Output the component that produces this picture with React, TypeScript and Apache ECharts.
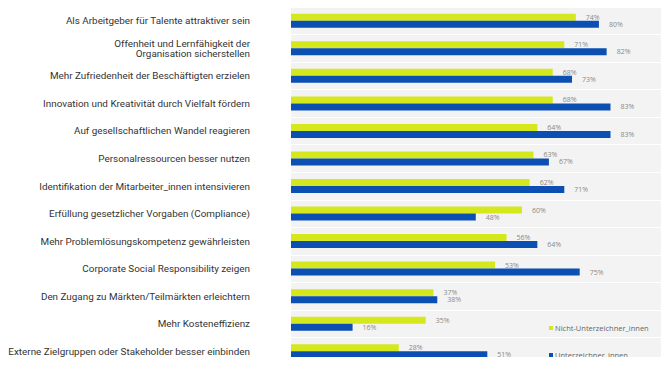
import React, { useEffect, useRef } from "react";
import * as echarts from "echarts";

// Motive, top to bottom
const categories: string[] = [
  "Als Arbeitgeber für Talente attraktiver sein",
  "Offenheit und Lernfähigkeit der\nOrganisation sicherstellen",
  "Mehr Zufriedenheit der Beschäftigten erzielen",
  "Innovation und Kreativität durch Vielfalt fördern",
  "Auf gesellschaftlichen Wandel reagieren",
  "Personalressourcen besser nutzen",
  "Identifikation der Mitarbeiter_innen intensivieren",
  "Erfüllung gesetzlicher Vorgaben (Compliance)",
  "Mehr Problemlösungskompetenz gewährleisten",
  "Corporate Social Responsibility zeigen",
  "Den Zugang zu Märkten/Teilmärkten erleichtern",
  "Mehr Kosteneffizienz",
  "Externe Zielgruppen oder Stakeholder besser einbinden",
];

const seriesNames: string[] = ["Nicht-Unterzeichner_innen", "Unterzeichner_innen"];

const nichtUnterzeichner: number[] = [74, 71, 68, 68, 64, 63, 62, 60, 56, 53, 37, 35, 28];
const unterzeichner: number[] = [80, 82, 73, 83, 83, 67, 71, 48, 64, 75, 38, 16, 51];

const GREEN = "#d5e81e";
const BLUE = "#0b4fb2";

export default function App() {
  const ref = useRef<HTMLDivElement>(null);

  useEffect(() => {
    if (!ref.current) return;
    const chart = echarts.init(ref.current, undefined, { renderer: "svg" });

    const valueLabel = {
      show: true,
      position: "right" as const,
      distance: 10,
      formatter: "{c}%",
      color: "#8a8a8a",
      fontSize: 7,
      fontFamily: "Open Sans",
    };

    const legendText = {
      color: "#666666",
      fontSize: 7.5,
      fontFamily: "Open Sans",
      padding: [0, 0, 0, -3],
    };

    const legendBase = {
      orient: "vertical",
      left: 549,
      itemWidth: 4,
      itemHeight: 4,
      icon: "rect",
      padding: 0,
      textStyle: legendText,
    };

    chart.setOption({
      animation: false,
      backgroundColor: "#ffffff",
      grid: {
        left: 291,
        top: 7,
        right: 0,
        bottom: 0,
        show: true,
        backgroundColor: "#f3f3f3",
        borderWidth: 0,
      },
      legend: [
        { ...legendBase, top: 324, data: [seriesNames[0]] },
        { ...legendBase, top: 351, data: [seriesNames[1]] },
      ],
      xAxis: {
        type: "value",
        min: 0,
        max: 98.2,
        show: false,
        splitLine: { show: false },
      },
      yAxis: {
        type: "category",
        data: categories,
        inverse: true,
        axisLine: { show: false },
        axisTick: { show: false },
        splitLine: { show: true, lineStyle: { color: "#ffffff", width: 1 } },
        axisLabel: {
          margin: 41,
          color: "#333333",
          fontSize: 9.9,
          fontFamily: "Roboto",
          lineHeight: 10.5,
          align: "right",
        },
      },
      series: [
        {
          name: seriesNames[0],
          type: "bar",
          data: nichtUnterzeichner,
          barWidth: 7,
          barGap: "0%",
          itemStyle: { color: GREEN },
          label: valueLabel,
        },
        {
          name: seriesNames[1],
          type: "bar",
          data: unterzeichner,
          barWidth: 7,
          barGap: "0%",
          itemStyle: { color: BLUE },
          label: valueLabel,
        },
      ],
    });

    return () => chart.dispose();
  }, []);

  return <div ref={ref} style={{ width: 669, height: 365, margin: -8 }} />;
}
